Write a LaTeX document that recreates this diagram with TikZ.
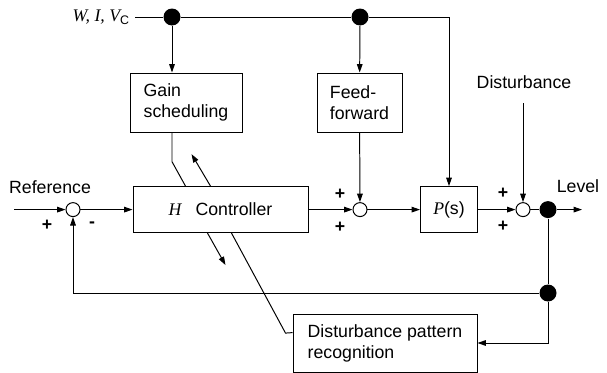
\documentclass[tikz,border=0pt]{standalone}
\usepackage{fontspec}
\setmainfont{Liberation Sans}
\newfontfamily\tms{Liberation Serif}
\usetikzlibrary{arrows.meta,positioning,calc}
\newcommand{\vit}[1]{{\tms\itshape #1}}

\begin{document}
\begin{tikzpicture}[>={Triangle[length=6pt,width=4pt]}, line width=0.7pt,
every node/.style={font=\fontsize{12.6}{15}\selectfont},
block/.style={draw,rectangle,align=left,inner sep=0pt},
junc/.style={draw,circle,fill=white,minimum size=3.5mm,inner sep=0pt},
tap/.style={circle,fill=black,minimum size=4.25mm,inner sep=0pt},
sgn/.style={font=\bfseries\fontsize{12.6}{15}\selectfont}]
\useasboundingbox (0,0) rectangle (15.175,-9.325);
\node[anchor=east] (wiv) at (3.375,-0.425) {\vit{W, I, V}\textsubscript{C}};
\node[tap] (tap1) at (4.3,-0.425) {};
\node[tap] (tap2) at (9.0,-0.425) {};
\coordinate (corner) at (11.225,-0.425);
\node[block,minimum width=28mm,minimum height=14.75mm] (gs) at (4.65,-2.5625) {Gain\\scheduling};
\node[block,minimum width=21.25mm,minimum height=14.75mm] (ff) at (8.9875,-2.5625) {Feed-\\forward};
\node[junc] (sum1) at (1.825,-5.24) {};
\node[block,minimum width=43.75mm,minimum height=11.5mm] (ctrl) at (5.5125,-5.24) {\vit{H}\hspace{0.8em}Controller};
\node[junc] (sum2) at (9.0,-5.24) {};
\node[block,minimum width=14.25mm,minimum height=11.5mm] (plant) at (11.225,-5.24) {\vit{P}(s)};
\node[junc] (sum3) at (13.075,-5.24) {};
\node[tap] (tapout) at (13.7,-5.24) {};
\node[tap] (tapfb) at (13.7,-7.325) {};
\node[block,minimum width=46mm,minimum height=14.5mm] (dpr) at (9.625,-8.575) {Disturbance pattern\\recognition};
\coordinate (refin) at (0.35,-5.24);
\coordinate (lvl) at (14.55,-5.24);
\coordinate (distin) at (13.075,-2.575);
\node (reflbl) at (1.25,-4.675) {Reference};
\node (dist) at (13.1,-2.05) {Disturbance};
\node (lvllbl) at (14.45,-4.65) {Level};
\node[sgn] (p1) at (1.175,-5.625) {+};
\node[sgn] (m1) at (2.3,-5.625) {-};
\node[sgn] (p2) at (8.5,-4.85) {+};
\node[sgn] (p3) at (8.5,-5.675) {+};
\node[sgn] (p4) at (12.575,-4.825) {+};
\node[sgn] (p5) at (12.575,-5.65) {+};
\draw (wiv.east) -- (tap1) -- (tap2) -- (corner);
\draw[->] (tap1) -- (gs.north -| tap1);
\draw[->] (tap2) -- (ff);
\draw[->] (corner) -- (plant);
\draw[->] (ff) -- (sum2);
\draw[->] (refin) -- (sum1);
\draw[->] (sum1) -- (ctrl);
\draw[->] (ctrl) -- (sum2);
\draw[->] (sum2) -- (plant);
\draw[->] (plant) -- (sum3);
\draw[->] (distin) -- (sum3);
\draw (sum3) -- (tapout);
\draw[->] (tapout) -- (lvl);
\draw (tapout) -- (tapfb);
\draw[->] (tapfb) -| (sum1);
\draw[->] (tapfb) |- (dpr.east);
\draw (gs.south -| tap1) -- ++(0,-0.73) -- ([xshift=13.25mm]ctrl.north west);
\draw[->] ([xshift=19.5mm]ctrl.north west) -- ++(-0.475,0.8);
\draw[->] ([xshift=18.75mm]ctrl.south west) -- ++(0.45,-0.8);
\draw ([xshift=24.75mm]ctrl.south west) -- ++(1.35,-2.5) -- (dpr.west |- 0,-8.315);
\end{tikzpicture}
\end{document}
